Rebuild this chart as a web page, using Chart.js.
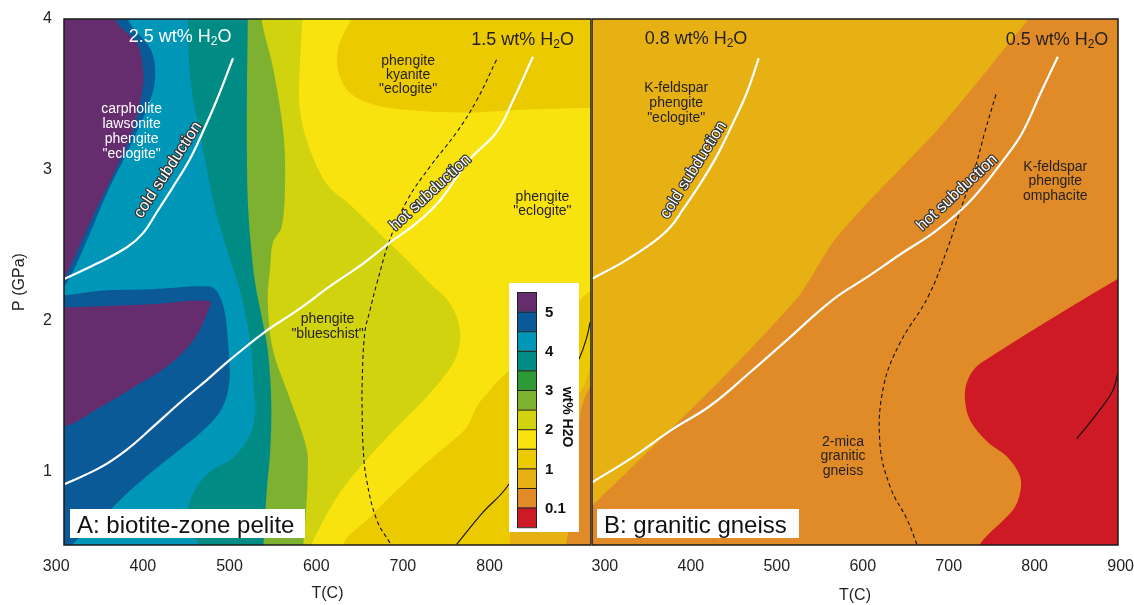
<!DOCTYPE html>
<html>
<head>
<meta charset="utf-8">
<title>wt% H2O: biotite-zone pelite and granitic gneiss</title>
<script src="https://cdn.jsdelivr.net/npm/chart.js@4.4.1/dist/chart.umd.min.js"></script>
<style>
  html, body { margin: 0; padding: 0; background: #fff; overflow: hidden; }
  #panelA { position: absolute; left: 0; top: 0; }
  #panelB { position: absolute; left: 592px; top: 0; }
</style>
</head>
<body>
<canvas id="panelA" width="592" height="605"></canvas>
<canvas id="panelB" width="542" height="605"></canvas>
<script>
"use strict";

var FONT = '"Liberation Sans", Arial, Helvetica, sans-serif';
var INK = '#231f20';

// axes
var tTicksA = [300, 400, 500, 600, 700, 800];
var tTicksB = [300, 400, 500, 600, 700, 800, 900];
var pTicks = [1, 2, 3, 4];
var tRangeA = [309, 917];
var tRangeB = [285, 897];
var pRange = [0.516, 4];

// colour key, wettest first
var waterColors = ['#662d6e', '#0b5a98', '#0096b7', '#008c84', '#2e9a35', '#7db12f',
                   '#d1d30f', '#f9e30f', '#ecca00', '#e7b013', '#e08b27', '#cd1a24'];
var waterTicks = ['5', '4', '3', '2', '1', '0.1'];

// ---- panel A contours, [T (C), P (GPa)] ----
var aBase = [[250, 0.3], [980, 0.3], [980, 4.3], [250, 4.3]];
var aDarkGold = [[823, 0.3], [823, 0.5], [826, 0.72], [835, 0.9], [858, 1.11], [887, 1.38], [910, 1.58], [921, 1.74], [960, 1.8], [960, 0.3]];
var aOrange = [[888, 0.3], [888, 0.5], [895, 0.72], [901, 1.01], [903, 1.31], [909, 1.48], [921, 1.58], [960, 1.6], [960, 0.3]];
var aYellow = [[250, 0.3], [631, 0.3], [631, 0.52], [658, 0.68], [697, 0.9], [735, 1.1], [754, 1.19], [774, 1.3], [786, 1.44], [800, 1.54], [820, 1.66], [841, 1.75], [866, 1.89], [887, 2.02], [917, 2.2], [960, 2.25], [960, 4.3], [250, 4.3]];
var aGoldTop = [[646, 4.3], [646, 4.09], [627, 3.84], [624, 3.73], [627, 3.62], [639, 3.51], [662, 3.44], [700, 3.4], [769, 3.38], [846, 3.4], [917, 3.41], [960, 3.41], [960, 4.3]];
var aYellowGreen = [[250, 4.3], [585, 4.3], [584, 4.0], [581, 3.68], [581, 3.4], [593, 3.13], [613, 2.9], [639, 2.77], [673, 2.58], [702, 2.42], [731, 2.25], [751, 2.14], [763, 2.01], [766, 1.87], [758, 1.72], [728, 1.5], [697, 1.32], [658, 1.08], [627, 0.86], [603, 0.62], [594, 0.5], [592, 0.3], [250, 0.3]];
var aLightGreen = [[250, 4.3], [536, 4.3], [537, 4.0], [550, 3.68], [562, 3.25], [564, 2.91], [560, 2.62], [550, 2.52], [547, 2.36], [544, 2.14], [550, 1.81], [570, 1.48], [589, 1.15], [590, 0.95], [588, 0.72], [585, 0.5], [584, 0.3], [250, 0.3]];
var aTeal = [[250, 4.3], [521, 4.3], [521, 4.0], [520, 3.46], [520, 3.13], [521, 2.8], [524, 2.54], [529, 2.27], [537, 2.03], [544, 1.81], [548, 1.48], [547, 1.15], [543, 0.88], [539, 0.5], [539, 0.3], [250, 0.3]];
var aCyan = [[250, 4.3], [452, 4.3], [452, 4.0], [453, 3.73], [458, 3.46], [466, 3.25], [481, 2.8], [497, 2.47], [510, 2.24], [518, 2.05], [525, 1.81], [528, 1.54], [529, 1.39], [524, 1.25], [503, 1.09], [477, 1.0], [460, 0.88], [452, 0.75], [454, 0.62], [466, 0.5], [472, 0.3], [250, 0.3]];
var aBlueTop = [[250, 4.3], [382, 4.3], [383, 4.0], [408, 3.81], [414, 3.68], [411, 3.51], [389, 3.2], [362, 2.89], [336, 2.54], [314, 2.27], [304, 2.21], [250, 2.21]];
var aPurpleTop = [[250, 4.3], [367, 4.3], [368, 4.0], [393, 3.84], [400, 3.68], [400, 3.55], [389, 3.28], [370, 3.02], [342, 2.69], [310, 2.29], [302, 2.24], [250, 2.24]];
var aBlueLow = [[250, 2.17], [309, 2.17], [351, 2.2], [408, 2.21], [474, 2.23], [485, 2.2], [494, 2.07], [498, 1.87], [500, 1.61], [492, 1.43], [474, 1.3], [443, 1.15], [408, 0.99], [382, 0.86], [359, 0.73], [336, 0.62], [318, 0.52], [300, 0.45], [250, 0.45]];
var aPurpleLow = [[250, 2.09], [309, 2.09], [408, 2.11], [477, 2.13], [474, 2.05], [458, 1.87], [428, 1.7], [389, 1.56], [351, 1.43], [309, 1.3], [250, 1.28]];

// panel A paths
var aCold = [[310, 2.28], [347, 2.38], [382, 2.49], [400, 2.58], [416, 2.72], [435, 2.89], [454, 3.07], [469, 3.25], [485, 3.46], [504, 3.74]];
var aHot = [[310, 0.92], [351, 1.03], [382, 1.15], [412, 1.3], [443, 1.46], [474, 1.61], [500, 1.74], [539, 1.92], [578, 2.07], [616, 2.23], [654, 2.38], [685, 2.52], [716, 2.65], [743, 2.8], [777, 3.07], [808, 3.25], [827, 3.46], [850, 3.75]];
var aDashed = [[808, 3.73], [785, 3.46], [762, 3.25], [731, 3.02], [705, 2.8], [685, 2.54], [670, 2.25], [662, 2.07], [656, 1.92], [653, 1.59], [653, 1.39], [654, 1.17], [658, 0.95], [670, 0.68], [685, 0.53]];
var aSolidus = [[762, 0.52], [792, 0.73], [820, 0.9], [864, 1.31], [904, 1.76], [912, 1.89], [916, 1.99]];

// ---- panel B contours ----
var bBase = [[250, 0.3], [960, 0.3], [960, 4.3], [250, 4.3]];
var bOrange = [[265, 0.3], [265, 0.67], [284, 0.77], [360, 1.19], [435, 1.61], [525, 2.16], [565, 2.52], [605, 2.78], [646, 3.02], [686, 3.26], [726, 3.53], [763, 3.79], [793, 4.0], [806, 4.09], [815, 4.3], [960, 4.3], [960, 0.3]];
var bRed = [[960, 2.49], [897, 2.28], [818, 2.01], [748, 1.76], [731, 1.69], [721, 1.59], [719, 1.48], [725, 1.34], [745, 1.2], [768, 1.1], [783, 0.97], [783, 0.86], [775, 0.75], [736, 0.52], [719, 0.3], [960, 0.3]];

// panel B paths
var bCold = [[285, 2.28], [321, 2.39], [356, 2.52], [376, 2.62], [391, 2.74], [411, 2.91], [430, 3.09], [449, 3.31], [465, 3.51], [479, 3.74]];
var bHot = [[285, 0.93], [333, 1.1], [378, 1.28], [423, 1.44], [469, 1.66], [515, 1.89], [565, 2.14], [605, 2.29], [646, 2.45], [686, 2.6], [726, 2.8], [767, 3.09], [786, 3.25], [807, 3.51], [827, 3.75]];
var bDashed = [[755, 3.5], [742, 3.25], [731, 3.02], [714, 2.74], [698, 2.47], [676, 2.16], [643, 1.85], [624, 1.56], [620, 1.19], [632, 0.9], [652, 0.68], [663, 0.52]];
var bSolidus = [[849, 1.22], [873, 1.39], [891, 1.54], [897, 1.66]];

// annotations
var aWater = {t: 443, p: 3.89, value: '2.5', color: '#fff'};
var aWater2 = {t: 838, p: 3.87, value: '1.5', color: INK};
var bWater = {t: 406, p: 3.88, value: '0.8', color: INK};
var bWater2 = {t: 826, p: 3.87, value: '0.5', color: INK};
var aNotes = [
    {t: 387, p: 3.40, gap: 14.7, color: '#fff', lines: ['carpholite', 'lawsonite', 'phengite', '"eclogite"']},
    {t: 706, p: 3.72, gap: 14, color: INK, lines: ['phengite', 'kyanite', '"eclogite"']},
    {t: 861, p: 2.82, gap: 14, color: INK, lines: ['phengite', '"eclogite"']},
    {t: 613, p: 2.01, gap: 15, color: INK, lines: ['phengite', '"blueschist"']}
];
var bNotes = [
    {t: 383, p: 3.54, gap: 15, color: INK, lines: ['K-feldspar', 'phengite', '"eclogite"']},
    {t: 824, p: 3.02, gap: 14.5, color: INK, lines: ['K-feldspar', 'phengite', 'omphacite']},
    {t: 577, p: 1.20, gap: 14.5, color: INK, lines: ['2-mica', 'granitic', 'gneiss']}
];
var aPathLabels = [
    {t: 429, p: 3.0, angle: 57, text: 'cold subduction'},
    {t: 732, p: 2.85, angle: 43, text: 'hot subduction'}
];
var bPathLabels = [
    {t: 403, p: 3.0, angle: 58, text: 'cold subduction'},
    {t: 710, p: 2.85, angle: 43, text: 'hot subduction'}
];

function toXY(pts) {
    return pts.map(function (d) { return {x: d[0], y: d[1]}; });
}

function region(pts, color, tension) {
    return {
        data: toXY(pts),
        fill: 'shape',
        backgroundColor: color,
        borderColor: 'rgba(0,0,0,0)',
        borderWidth: 0,
        pointRadius: 0,
        tension: tension === undefined ? 0.35 : tension,
        capBezierPoints: false
    };
}

function curve(pts, color, width, dash) {
    return {
        data: toXY(pts),
        fill: false,
        borderColor: color,
        borderWidth: width,
        borderDash: dash || [],
        pointRadius: 0,
        tension: 0.4,
        capBezierPoints: false
    };
}

// first in list is painted first (bottom)
function stacked(list) {
    var n = list.length;
    list.forEach(function (d, i) { d.order = n - i; });
    return list;
}

function drawWater(ctx, x, y, item) {
    var big = '18px ' + FONT, small = '12px ' + FONT;
    var head = item.value + ' wt% H';
    ctx.font = big;
    var w1 = ctx.measureText(head).width, w3 = ctx.measureText('O').width;
    ctx.font = small;
    var w2 = ctx.measureText('2').width;
    var x0 = x - (w1 + w2 + w3) / 2;
    ctx.fillStyle = item.color;
    ctx.textAlign = 'left';
    ctx.textBaseline = 'alphabetic';
    ctx.font = big;
    ctx.fillText(head, x0, y + 6.5);
    ctx.font = small;
    ctx.fillText('2', x0 + w1, y + 9.5);
    ctx.font = big;
    ctx.fillText('O', x0 + w1 + w2, y + 6.5);
}

function drawKey(ctx, area) {
    var left = area.right - 82, top = area.top + 264;
    var bx = left + 8, by = top + 9, cell = 19.6;
    ctx.fillStyle = '#fff';
    ctx.fillRect(left, top, 70, 249);
    waterColors.forEach(function (c, i) {
        ctx.fillStyle = c;
        ctx.fillRect(bx, by + i * cell, 20, cell);
        ctx.strokeStyle = '#222';
        ctx.lineWidth = 1;
        ctx.strokeRect(bx + 0.5, by + i * cell + 0.5, 19, cell);
    });
    ctx.fillStyle = '#111';
    ctx.font = 'bold 15px ' + FONT;
    ctx.textAlign = 'left';
    ctx.textBaseline = 'middle';
    waterTicks.forEach(function (s, i) {
        ctx.fillText(s, left + 36, by + (2 * i + 1) * cell + 1);
    });
    ctx.save();
    ctx.translate(left + 58, top + 134);
    ctx.rotate(Math.PI / 2);
    ctx.font = 'bold 14px ' + FONT;
    ctx.textAlign = 'center';
    ctx.fillText('wt% H2O', 0, 0);
    ctx.restore();
}

function decor(opts) {
    return {
        id: 'decor' + opts.key,
        afterDatasetsDraw: function (chart) {
            var ctx = chart.ctx, a = chart.chartArea;
            var xs = chart.scales.x, ys = chart.scales.y;
            ctx.save();

            ctx.strokeStyle = '#1a1a1a';
            ctx.lineWidth = 1.5;
            ctx.strokeRect(a.left, a.top, a.right - a.left, a.bottom - a.top);

            opts.water.forEach(function (w) {
                drawWater(ctx, xs.getPixelForValue(w.t), ys.getPixelForValue(w.p), w);
            });

            ctx.textAlign = 'center';
            ctx.textBaseline = 'middle';
            ctx.font = '14px ' + FONT;
            opts.notes.forEach(function (n) {
                var x = xs.getPixelForValue(n.t), y = ys.getPixelForValue(n.p);
                ctx.fillStyle = n.color;
                n.lines.forEach(function (s, i) { ctx.fillText(s, x, y + i * n.gap); });
            });

            opts.pathLabels.forEach(function (l) {
                ctx.save();
                ctx.translate(xs.getPixelForValue(l.t), ys.getPixelForValue(l.p));
                ctx.rotate(-l.angle * Math.PI / 180);
                ctx.font = '16px ' + FONT;
                ctx.lineJoin = 'round';
                ctx.lineWidth = 2.4;
                ctx.strokeStyle = '#333';
                ctx.strokeText(l.text, 0, 0);
                ctx.fillStyle = '#fff';
                ctx.fillText(l.text, 0, 0);
                ctx.restore();
            });

            if (opts.key === 'A') drawKey(ctx, a);

            ctx.fillStyle = '#fff';
            ctx.fillRect(a.left + opts.tagX, a.bottom - 36, opts.tagW, 29);
            ctx.fillStyle = '#111';
            ctx.font = '24px ' + FONT;
            ctx.textAlign = 'left';
            ctx.textBaseline = 'alphabetic';
            ctx.fillText(opts.tag, a.left + opts.tagX + 7, a.bottom - 12);

            ctx.restore();
        }
    };
}

function panelConfig(datasets, tRange, tTicks, showY, padRight, titleBottom, plugin) {
    return {
        type: 'line',
        data: {datasets: datasets},
        options: {
            responsive: false,
            animation: false,
            events: [],
            layout: {padding: {top: 19, right: padRight, bottom: 0, left: 0}},
            plugins: {legend: {display: false}, tooltip: {enabled: false}},
            scales: {
                x: {
                    type: 'linear',
                    min: tRange[0],
                    max: tRange[1],
                    afterBuildTicks: function (s) { s.ticks = tTicks.map(function (v) { return {value: v}; }); },
                    afterFit: function (s) { s.height = 60; s.paddingLeft = 0; s.paddingRight = 0; },
                    grid: {display: false, drawTicks: false},
                    border: {display: false},
                    ticks: {color: INK, font: {family: FONT, size: 16}, padding: 12, maxRotation: 0, autoSkip: false},
                    title: {display: true, text: 'T(C)', color: INK, font: {family: FONT, size: 16},
                            padding: {top: 0, bottom: titleBottom}}
                },
                y: {
                    type: 'linear',
                    display: showY,
                    min: pRange[0],
                    max: pRange[1],
                    afterBuildTicks: function (s) { s.ticks = pTicks.map(function (v) { return {value: v}; }); },
                    afterFit: function (s) { s.width = showY ? 64 : 0; s.paddingTop = 0; s.paddingBottom = 0; },
                    grid: {display: false, drawTicks: false},
                    border: {display: false},
                    ticks: {color: INK, font: {family: FONT, size: 16}, padding: 12, autoSkip: false},
                    title: {display: true, text: 'P (GPa)', color: INK, font: {family: FONT, size: 16},
                            padding: {top: 10, bottom: 0}}
                }
            }
        },
        plugins: [plugin]
    };
}

var datasetsA = stacked([
    region(aBase, waterColors[8], 0),
    region(aDarkGold, waterColors[9]),
    region(aOrange, waterColors[10]),
    region(aYellow, waterColors[7]),
    region(aGoldTop, waterColors[8]),
    region(aYellowGreen, waterColors[6]),
    region(aLightGreen, waterColors[5]),
    region(aTeal, waterColors[3]),
    region(aCyan, waterColors[2]),
    region(aBlueTop, waterColors[1]),
    region(aPurpleTop, waterColors[0]),
    region(aBlueLow, waterColors[1]),
    region(aPurpleLow, waterColors[0]),
    curve(aSolidus, '#111', 1.1),
    curve(aDashed, '#111', 1.1, [4, 3]),
    curve(aCold, '#fff', 2.2),
    curve(aHot, '#fff', 2.2)
]);

var datasetsB = stacked([
    region(bBase, waterColors[9], 0),
    region(bOrange, waterColors[10], 0.2),
    region(bRed, waterColors[11]),
    curve(bSolidus, '#111', 1.1),
    curve(bDashed, '#111', 1.1, [4, 3]),
    curve(bCold, '#fff', 2.2),
    curve(bHot, '#fff', 2.2)
]);

new Chart(document.getElementById('panelA'), panelConfig(datasetsA, tRangeA, tTicksA, true, 1, 2,
    decor({key: 'A', water: [aWater, aWater2], notes: aNotes, pathLabels: aPathLabels,
           tag: 'A: biotite-zone pelite', tagX: 6, tagW: 235})));

new Chart(document.getElementById('panelB'), panelConfig(datasetsB, tRangeB, tTicksB, false, 16, 0,
    decor({key: 'B', water: [bWater, bWater2], notes: bNotes, pathLabels: bPathLabels,
           tag: 'B: granitic gneiss', tagX: 5, tagW: 202})));
</script>
</body>
</html>
